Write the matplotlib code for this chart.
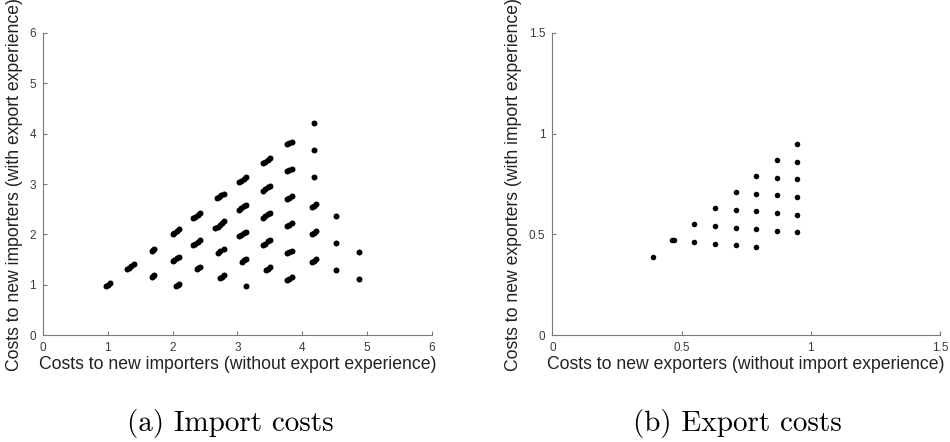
import matplotlib.pyplot as plt

plt.rcParams['font.family'] = ['Liberation Sans', 'DejaVu Sans']

# (a) import costs: without vs with export experience
imp_x = [0.98, 1.00, 1.03, 1.30, 1.33, 1.36, 1.40, 1.68, 1.70, 1.72, 1.68, 1.70, 1.72,
         2.00, 2.03, 2.07, 2.10, 2.00, 2.03, 2.07, 2.10, 2.05, 2.08, 2.10,
         2.32, 2.35, 2.39, 2.42, 2.32, 2.35, 2.39, 2.42, 2.37, 2.40, 2.42,
         2.66, 2.70, 2.73, 2.77, 2.80, 2.68, 2.72, 2.75, 2.79, 2.70, 2.74, 2.79, 2.73, 2.77, 2.80,
         3.02, 3.06, 3.10, 3.14, 3.02, 3.06, 3.10, 3.14, 3.02, 3.06, 3.10, 3.14, 3.08, 3.11, 3.14, 3.13,
         3.40, 3.43, 3.47, 3.50, 3.40, 3.43, 3.47, 3.50, 3.40, 3.43, 3.47, 3.50,
         3.40, 3.43, 3.47, 3.50, 3.44, 3.47, 3.50,
         3.77, 3.80, 3.84, 3.77, 3.80, 3.84, 3.77, 3.80, 3.84, 3.77, 3.80, 3.84,
         3.77, 3.80, 3.84, 3.77, 3.80, 3.84,
         4.19, 4.19, 4.19, 4.15, 4.18, 4.21, 4.15, 4.18, 4.21, 4.15, 4.18, 4.21,
         4.52, 4.52, 4.52, 4.88, 4.88]
imp_y = [0.98, 1.00, 1.03, 1.31, 1.34, 1.37, 1.41, 1.68, 1.70, 1.72, 1.15, 1.17, 1.19,
         2.00, 2.03, 2.07, 2.10, 1.47, 1.50, 1.53, 1.56, 0.97, 0.99, 1.01,
         2.32, 2.35, 2.39, 2.42, 1.79, 1.82, 1.85, 1.88, 1.31, 1.33, 1.35,
         2.12, 2.15, 2.18, 2.22, 2.26, 2.72, 2.75, 2.78, 2.81, 1.63, 1.67, 1.71, 1.14, 1.16, 1.19,
         3.03, 3.06, 3.10, 3.13, 2.49, 2.52, 2.56, 2.59, 1.96, 1.99, 2.02, 2.05, 1.46, 1.49, 1.52, 0.97,
         3.41, 3.44, 3.48, 3.51, 2.87, 2.90, 2.94, 2.97, 2.33, 2.36, 2.40, 2.43,
         1.79, 1.82, 1.86, 1.89, 1.30, 1.32, 1.35,
         3.79, 3.81, 3.84, 3.25, 3.27, 3.30, 2.70, 2.73, 2.76, 2.17, 2.19, 2.22,
         1.63, 1.65, 1.68, 1.10, 1.12, 1.15,
         4.21, 3.67, 3.13, 2.54, 2.57, 2.60, 2.00, 2.03, 2.06, 1.45, 1.48, 1.51,
         2.37, 1.83, 1.29, 1.66, 1.12]

# (b) export costs: without vs with import experience
exp_x = [0.388, 0.465, 0.470, 0.549, 0.549,
         0.629, 0.629, 0.629,
         0.709, 0.709, 0.709, 0.709,
         0.788, 0.788, 0.788, 0.788, 0.788,
         0.868, 0.868, 0.868, 0.868, 0.868,
         0.948, 0.948, 0.948, 0.948, 0.948, 0.948]
exp_y = [0.390, 0.470, 0.474, 0.552, 0.463,
         0.629, 0.542, 0.454,
         0.709, 0.623, 0.534, 0.446,
         0.790, 0.702, 0.615, 0.527, 0.438,
         0.869, 0.781, 0.694, 0.606, 0.519,
         0.948, 0.861, 0.773, 0.686, 0.598, 0.510]

imp_ticks = [0, 1, 2, 3, 4, 5, 6]
exp_ticks = [0, 0.5, 1, 1.5]
exp_labels = ['0', '0.5', '1', '1.5']

fig = plt.figure(figsize=(9.5, 4.42), dpi=100)
ax1 = fig.add_axes([0.0453, 0.2414, 0.409, 0.6846])
ax2 = fig.add_axes([0.5814, 0.2414, 0.408, 0.6846])


def style_ax(ax):
    for s in ['top', 'right']:
        ax.spines[s].set_visible(False)
    for s in ['left', 'bottom']:
        ax.spines[s].set_color('#7a7a7a')
        ax.spines[s].set_linewidth(0.8)
    ax.tick_params(direction='in', length=3, width=0.8, color='#7a7a7a',
                   labelsize=8.5, labelcolor='#3a3a3a', pad=5)


ax1.plot(imp_x, imp_y, 'o', color='black', markersize=4.3, markeredgewidth=0)
ax1.set_xlim(0, 6)
ax1.set_ylim(0, 6)
ax1.set_xticks(imp_ticks)
ax1.set_yticks(imp_ticks)
ax1.set_xlabel('Costs to new importers (without export experience)', fontsize=12.7, color='#222222', labelpad=1)
ax1.set_ylabel('Costs to new importers (with export experience)', fontsize=12.7, color='#222222', labelpad=5)
style_ax(ax1)

ax2.plot(exp_x, exp_y, 'o', color='black', markersize=4.0, markeredgewidth=0)
ax2.set_xlim(0, 1.5)
ax2.set_ylim(0, 1.5)
ax2.set_xticks(exp_ticks, exp_labels)
ax2.set_yticks(exp_ticks, exp_labels)
ax2.set_xlabel('Costs to new exporters (without import experience)', fontsize=12.7, color='#222222', labelpad=1)
ax2.set_ylabel('Costs to new exporters (with import experience)', fontsize=12.7, color='#222222', labelpad=5)
style_ax(ax2)

fig.text(0.242, 0.041, '(a) Import costs', family='cmr10', fontsize=21, ha='center', va='center')
fig.text(0.776, 0.041, '(b) Export costs', family='cmr10', fontsize=21, ha='center', va='center')

plt.savefig('out.png', dpi=100)
